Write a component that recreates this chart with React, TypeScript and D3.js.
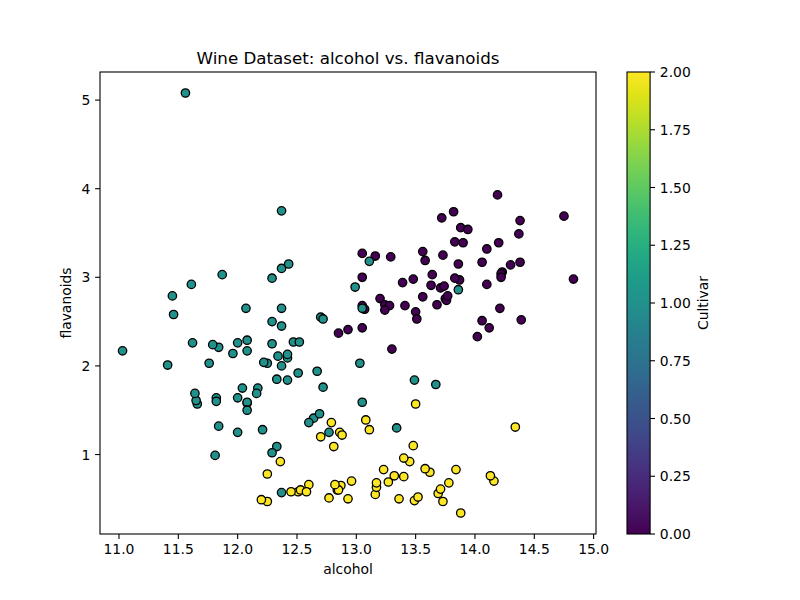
import React from "react";
import * as d3 from "d3";

const alcohol0 = [14.23,13.2,13.16,14.37,13.24,14.2,14.39,14.06,14.83,13.86,14.1,14.12,13.75,14.75,14.38,13.63,14.3,13.83,14.19,13.64,14.06,12.93,13.71,12.85,13.5,13.05,13.39,13.3,13.87,14.02,13.73,13.58,13.68,13.76,13.51,13.48,13.28,13.05,13.07,14.22,13.56,13.41,13.88,13.24,13.05,14.21,14.38,13.9,14.1,13.94,13.05,13.83,13.82,13.77,13.74,13.56,14.22,13.29,13.72];
const flav0 = [3.06,2.76,3.24,3.49,2.69,3.39,2.52,2.51,2.98,3.15,3.32,2.43,2.76,3.69,3.64,2.91,3.14,3.4,3.93,3.03,3.17,2.41,2.88,2.37,2.61,2.68,2.94,2.19,2.97,2.33,3.25,3.19,2.69,2.74,2.53,2.98,2.68,2.43,2.64,3.04,3.29,2.68,3.56,2.63,3.0,2.65,3.17,3.39,2.92,3.54,3.27,2.99,3.74,2.79,2.9,2.78,3.0,3.23,3.67];

const alcohol1 = [12.37,12.33,12.64,13.67,12.37,12.17,12.37,13.11,12.37,13.34,12.21,12.29,13.86,13.49,12.99,11.96,11.66,13.03,11.84,12.33,12.7,12.0,12.72,12.08,13.05,11.84,12.67,12.16,11.65,11.64,12.08,12.08,12.0,12.69,12.29,11.62,12.47,11.81,12.29,12.37,12.29,12.08,12.6,12.34,11.82,12.51,12.42,12.25,12.72,12.22,11.61,11.46,12.52,11.76,11.41,12.08,11.03,11.82,12.42,12.77,12.0,11.45,11.56,12.42,13.05,11.87,12.07,12.43,11.79,12.37,12.04];
const flav1 = [0.57,1.09,1.41,1.79,3.1,1.75,2.65,3.18,2.0,1.3,1.28,1.02,2.86,1.84,2.89,2.14,1.57,2.03,1.32,1.85,2.55,2.26,2.53,1.58,1.59,2.21,1.94,1.69,1.61,1.69,1.59,1.5,1.25,1.46,2.25,2.26,2.27,0.99,2.5,3.75,2.99,2.17,1.36,2.11,1.64,1.92,1.84,2.03,1.76,2.04,2.92,2.58,2.27,2.03,2.01,2.29,2.17,1.6,2.09,1.25,1.64,2.79,5.08,2.13,2.65,3.03,2.65,3.15,2.24,2.45,1.75];

const alcohol2 = [12.86,12.88,12.81,12.7,12.51,12.6,12.25,12.53,13.49,12.84,12.93,13.36,13.52,13.62,12.25,13.16,13.88,12.87,13.32,13.08,13.5,12.79,13.11,13.23,12.58,13.17,13.84,12.45,14.34,13.48,12.36,13.69,12.85,12.96,13.78,13.73,13.45,12.82,13.58,13.4,12.2,12.77,14.16,13.71,13.4,13.27,13.17,14.13];
const flav2 = [1.25,1.22,1.09,1.2,0.58,0.66,0.47,0.6,0.48,0.6,0.5,0.5,0.52,0.8,0.78,0.55,0.34,0.65,0.76,1.39,1.57,1.36,1.28,0.83,0.58,0.63,0.83,0.58,1.31,1.1,0.92,0.56,0.6,0.7,0.68,0.47,0.92,0.66,0.84,0.96,0.49,0.51,0.7,0.61,0.75,0.69,0.68,0.76];

const xTicks = [11.0, 11.5, 12.0, 12.5, 13.0, 13.5, 14.0, 14.5, 15.0];
const yTicks = [1, 2, 3, 4, 5];
const cTicks = [0, 0.25, 0.5, 0.75, 1.0, 1.25, 1.5, 1.75, 2.0];

type Pt = { x: number; y: number; c: number };

export default function App() {
  const L = 100, R = 596, T = 72, B = 534;
  const CL = 627, CR = 650.1;
  const pts: Pt[] = [];
  alcohol0.forEach((a, i) => pts.push({ x: a, y: flav0[i], c: 0 }));
  alcohol1.forEach((a, i) => pts.push({ x: a, y: flav1[i], c: 1 }));
  alcohol2.forEach((a, i) => pts.push({ x: a, y: flav2[i], c: 2 }));

  const [xmin, xmax] = d3.extent(pts, (d) => d.x) as [number, number];
  const [ymin, ymax] = d3.extent(pts, (d) => d.y) as [number, number];
  const xm = (xmax - xmin) * 0.05, ym = (ymax - ymin) * 0.05;
  const x = d3.scaleLinear().domain([xmin - xm, xmax + xm]).range([L, R]);
  const y = d3.scaleLinear().domain([ymin - ym, ymax + ym]).range([B, T]);
  const cy = d3.scaleLinear().domain([0, 2]).range([B, T]);
  const color = (v: number) => d3.interpolateViridis(v / 2);

  const stops = d3.range(0, 1.0001, 0.05);
  const font = "DejaVu Sans, sans-serif";

  return (
    <svg width={800} height={600} style={{ position: "absolute", left: 0, top: 0, background: "#fff" }} fontFamily={font}>
      <defs>
        <linearGradient id="vir" x1="0" y1="1" x2="0" y2="0">
          {stops.map((s) => (
            <stop key={s} offset={s} stopColor={d3.interpolateViridis(s)} />
          ))}
        </linearGradient>
      </defs>
      <rect x={0} y={0} width={800} height={600} fill="#fff" />
      <text x={(L + R) / 2} y={63.5} textAnchor="middle" fontSize={16.7}>
        Wine Dataset: alcohol vs. flavanoids
      </text>
      {pts.map((p, i) => (
        <circle key={i} cx={x(p.x)} cy={y(p.y)} r={4.2} fill={color(p.c)} stroke="#000" strokeWidth={1.3} />
      ))}
      <rect x={L} y={T} width={R - L} height={B - T} fill="none" stroke="#000" strokeWidth={1.1} />
      {xTicks.map((t) => (
        <g key={t}>
          <line x1={x(t)} x2={x(t)} y1={B} y2={B + 4.9} stroke="#000" strokeWidth={1.1} />
          <text x={x(t)} y={B + 20} textAnchor="middle" fontSize={13.9}>{t.toFixed(1)}</text>
        </g>
      ))}
      {yTicks.map((t) => (
        <g key={t}>
          <line x1={L - 4.9} x2={L} y1={y(t)} y2={y(t)} stroke="#000" strokeWidth={1.1} />
          <text x={L - 9.7} y={y(t) + 5} textAnchor="end" fontSize={13.9}>{t}</text>
        </g>
      ))}
      <text x={(L + R) / 2} y={574} textAnchor="middle" fontSize={13.9}>alcohol</text>
      <text transform={`translate(71,${(T + B) / 2}) rotate(-90)`} textAnchor="middle" fontSize={13.9}>flavanoids</text>

      <rect x={CL} y={T} width={CR - CL} height={B - T} fill="url(#vir)" />
      <rect x={CL} y={T} width={CR - CL} height={B - T} fill="none" stroke="#000" strokeWidth={1.1} />
      {cTicks.map((t) => (
        <g key={t}>
          <line x1={CR} x2={CR + 4.9} y1={cy(t)} y2={cy(t)} stroke="#000" strokeWidth={1.1} />
          <text x={CR + 9.7} y={cy(t) + 5} textAnchor="start" fontSize={13.9}>{t.toFixed(2)}</text>
        </g>
      ))}
      <text transform={`translate(708,${(T + B) / 2}) rotate(-90)`} textAnchor="middle" fontSize={13.9}>Cultivar</text>
    </svg>
  );
}
